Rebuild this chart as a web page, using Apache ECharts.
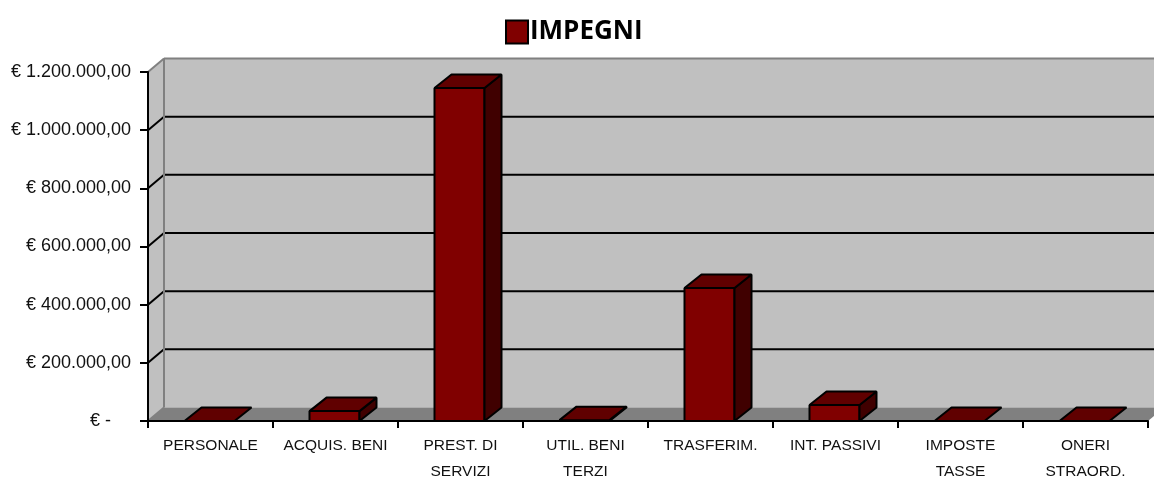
<!DOCTYPE html>
<html>
<head>
<meta charset="utf-8">
<style>
    html, body { margin: 0; padding: 0; background: #fff; }
    #chart { width: 1154px; height: 477px; }
</style>
<script src="https://cdn.jsdelivr.net/npm/echarts@6/dist/echarts.min.js"></script>
</head>
<body>
<div id="chart"></div>
<script>
const categories = ['PERSONALE', 'ACQUIS. BENI', 'PREST. DI\nSERVIZI', 'UTIL. BENI\nTERZI', 'TRASFERIM.', 'INT. PASSIVI', 'IMPOSTE\nTASSE', 'ONERI\nSTRAORD.']
const impegni = [0, 34000, 1145000, 3000, 457000, 55000, 0, 0]
const yTicks = [0, 200000, 400000, 600000, 800000, 1000000, 1200000]
const yTickLabels = ['€ -\u00a0\u00a0\u00a0\u00a0', '€ 200.000,00', '€ 400.000,00', '€ 600.000,00', '€ 800.000,00', '€ 1.000.000,00', '€ 1.200.000,00']

// fake 3d depth
const DX = 16
const DY = -13.5
const BAR_DX = 17

let chart = echarts.init(document.getElementById('chart'))

function poly(points, fill, stroke, lineWidth) {
    return {
        type: 'polygon',
        shape: { points: points },
        style: { fill: fill, stroke: stroke, lineWidth: lineWidth || 0, lineJoin: 'bevel' }
    }
}

function seg(x1, y1, x2, y2, stroke, lineWidth) {
    return {
        type: 'line',
        shape: { x1: x1, y1: y1, x2: x2, y2: y2 },
        style: { stroke: stroke, lineWidth: lineWidth }
    }
}

function renderWalls(params, api) {
    let left = params.coordSys.x
    let right = left + params.coordSys.width
    let y0 = api.coord([0, 0])[1]
    let yTop = api.coord([0, yTicks[yTicks.length - 1]])[1]
    let children = [
        poly([[left + DX, yTop + DY], [right + DX, yTop + DY], [right + DX, y0 + DY], [left + DX, y0 + DY]], '#c0c0c0'),
        poly([[left, yTop], [left + DX, yTop + DY], [left + DX, y0 + DY], [left, y0]], '#c0c0c0'),
        poly([[left, y0], [left + DX, y0 + DY], [right + DX, y0 + DY], [right, y0]], '#808080')
    ]
    yTicks.slice(1, -1).forEach(function (t) {
        let y = api.coord([0, t])[1]
        children.push(seg(left + DX, y + DY, right + DX, y + DY, '#000', 2))
        children.push(seg(left, y, left + DX, y + DY, '#000', 2))
    })
    children.push(seg(left + DX, yTop + DY, right + DX, yTop + DY, '#808080', 2))
    children.push(seg(left, yTop, left + DX, yTop + DY, '#808080', 2))
    children.push(seg(left + DX, yTop + DY, left + DX, y0 + DY, '#808080', 2))
    children.push(seg(left, y0, left + DX, y0 + DY, '#808080', 2))
    return { type: 'group', children: children }
}

function renderBar(params, api) {
    let top = api.coord([api.value(0), api.value(1)])
    let base = api.coord([api.value(0), 0])
    let w = api.size([1, 0])[0] * 0.4
    let x1 = top[0] - w / 2 - 1
    let x2 = top[0] + w / 2 - 1
    let children = []
    if (base[1] - top[1] > 0.5) {
        children.push(poly([[x1, top[1]], [x2, top[1]], [x2, base[1]], [x1, base[1]]], '#800000', '#000', 2))
        children.push(poly([[x2, top[1]], [x2 + BAR_DX, top[1] + DY], [x2 + BAR_DX, base[1] + DY], [x2, base[1]]], '#400000', '#000', 2))
    }
    children.push(poly([[x1, top[1]], [x1 + BAR_DX, top[1] + DY], [x2 + BAR_DX, top[1] + DY], [x2, top[1]]], '#600000', '#000', 2))
    return { type: 'group', children: children }
}

const option = {
    animation: false,
    backgroundColor: '#fff',
    textStyle: { fontFamily: '"Liberation Sans", Arial, sans-serif' },
    legend: {
        data: [{ name: 'IMPEGNI', icon: 'rect' }],
        top: 14,
        left: 500,
        itemWidth: 22,
        itemHeight: 23,
        selectedMode: false,
        textStyle: { color: '#000', fontSize: 26, fontWeight: 'bold', fontFamily: '"Open Sans", sans-serif', padding: [0, 0, 0, -3] }
    },
    // the long labels would otherwise push the plot area inwards
    grid: { left: 148, right: 6, top: 72, bottom: 56, outerBoundsMode: 'none' },
    xAxis: {
        type: 'category',
        data: categories,
        z: 5,
        axisLine: { lineStyle: { color: '#000', width: 2 } },
        axisTick: { show: true, length: 7, lineStyle: { color: '#000', width: 2 } },
        axisLabel: { color: '#111', fontSize: 15.5, lineHeight: 26, margin: 12, interval: 0 },
        splitLine: { show: false }
    },
    yAxis: {
        type: 'value',
        min: 0,
        max: 1200000,
        interval: 200000,
        z: 5,
        axisLine: { show: true, lineStyle: { color: '#000', width: 2 } },
        axisTick: { show: true, length: 8, lineStyle: { color: '#000', width: 2 } },
        axisLabel: {
            color: '#111',
            fontSize: 18,
            margin: 17,
            formatter: function (val) {
                return yTickLabels[yTicks.indexOf(val)]
            }
        },
        splitLine: { show: false }
    },
    series: [{
        type: 'custom',
        z: 1,
        silent: true,
        clip: false,
        renderItem: renderWalls,
        data: [[0, 0]]
    }, {
        name: 'IMPEGNI',
        type: 'custom',
        z: 6,
        clip: false,
        itemStyle: { color: '#800000', borderColor: '#000', borderWidth: 2 },
        renderItem: renderBar,
        encode: { x: 0, y: 1 },
        data: impegni.map(function (v, i) { return [i, v] })
    }]
}

chart.setOption(option)
</script>
</body>
</html>
